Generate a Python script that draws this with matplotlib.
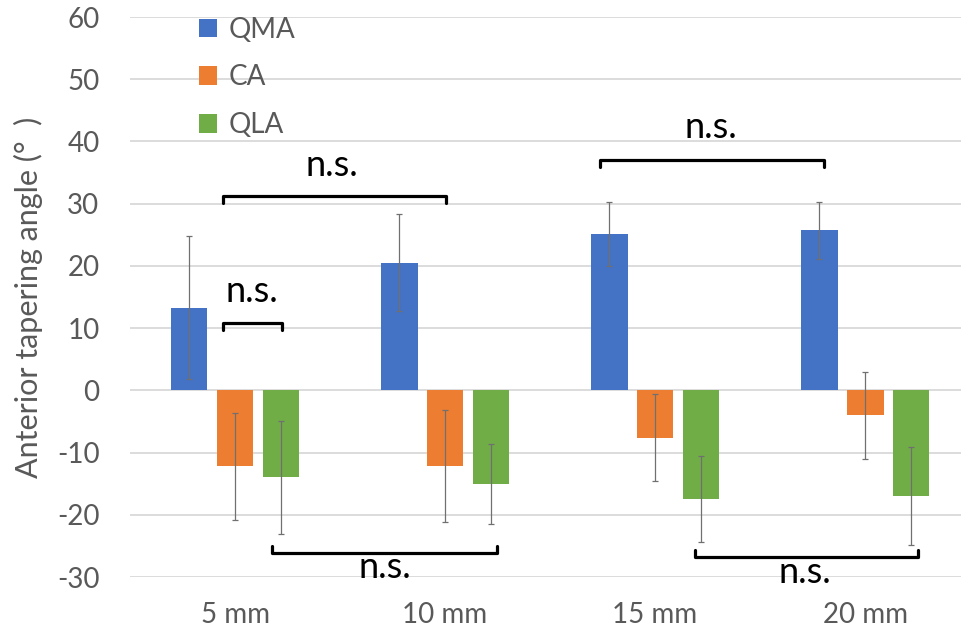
import numpy as np
import matplotlib.pyplot as plt

# === Anterior tapering angle by distance ===
categories = ['5 mm', '10 mm', '15 mm', '20 mm']
series = ['QMA', 'CA', 'QLA']
colors = ['#4472C4', '#ED7D31', '#70AD47']

qma_mean = [13.3, 20.5, 25.1, 25.7]
qma_sd = [11.5, 7.8, 5.1, 4.6]
ca_mean = [-12.2, -12.1, -7.6, -4.0]
ca_sd = [8.6, 9.0, 7.0, 7.0]
qla_mean = [-14.0, -15.1, -17.5, -17.0]
qla_sd = [9.1, 6.4, 6.9, 7.9]

means = [qma_mean, ca_mean, qla_mean]
sds = [qma_sd, ca_sd, qla_sd]

# significance brackets: (x0, x1, y, tick, text_x, text_y)
brackets = [
    (-0.057, 1.005, 31.2, -1.1, 0.462, 34.4),
    (-0.057, 0.224, 10.8, -1.1, 0.081, 14.2),
    (1.738, 2.805, 37.0, -1.1, 2.267, 40.5),
    (0.176, 1.248, -26.1, 1.1, 0.714, -30.2),
    (2.190, 3.252, -26.8, 1.1, 2.714, -31.0),
]

plt.rcParams['font.family'] = ['Lato', 'DejaVu Sans']
plt.rcParams['axes.unicode_minus'] = False

fig = plt.figure(figsize=(9.61, 6.35), dpi=100)
ax = fig.add_axes([130 / 961, 58 / 635, 831 / 961, 560 / 635])

x = np.arange(len(categories))
offset, width = 0.219, 0.176
for i, (name, m, s, c) in enumerate(zip(series, means, sds, colors)):
    pos = x + (i - 1) * offset
    ax.bar(pos, m, width, color=c, label=name, zorder=2)
    ax.errorbar(pos, m, yerr=s, fmt='none', ecolor='#707070', elinewidth=0.9,
                capsize=2.2, capthick=0.9, zorder=3)

for x0, x1, y, t, tx, ty in brackets:
    ax.plot([x0, x0, x1, x1], [y + t, y, y, y + t], color='black', lw=2.3,
            solid_joinstyle='round', solid_capstyle='round', zorder=4, clip_on=False)
    ax.text(tx, ty, 'n.s.', ha='center', va='baseline', fontsize=26,
            color='black', clip_on=False, zorder=5)

ax.set_xlim(-0.5, 3.457)
ax.set_ylim(-30, 60)
ax.set_yticks(np.arange(-30, 61, 10))
ax.set_xticks(x)
ax.set_xticklabels(categories)
ax.tick_params(axis='y', length=0, pad=22, labelsize=20, labelcolor='#595959')
ax.tick_params(axis='x', length=0, pad=18, labelsize=20, labelcolor='#595959')
ax.grid(axis='y', color='#d9d9d9', lw=1.3, zorder=0)
ax.set_axisbelow(True)
for sp in ax.spines.values():
    sp.set_visible(False)

ax.set_ylabel('Anterior tapering angle (°  )', fontsize=22, color='#595959')
ax.yaxis.set_label_coords(-0.105, 0.5)

ax.legend(loc='upper left', bbox_to_anchor=(0.053, 1.045), frameon=False, fontsize=20,
          handlelength=0.65, handleheight=0.65, handletextpad=0.4, labelspacing=0.78,
          labelcolor='#595959')

fig.savefig('out.png', dpi=100)
